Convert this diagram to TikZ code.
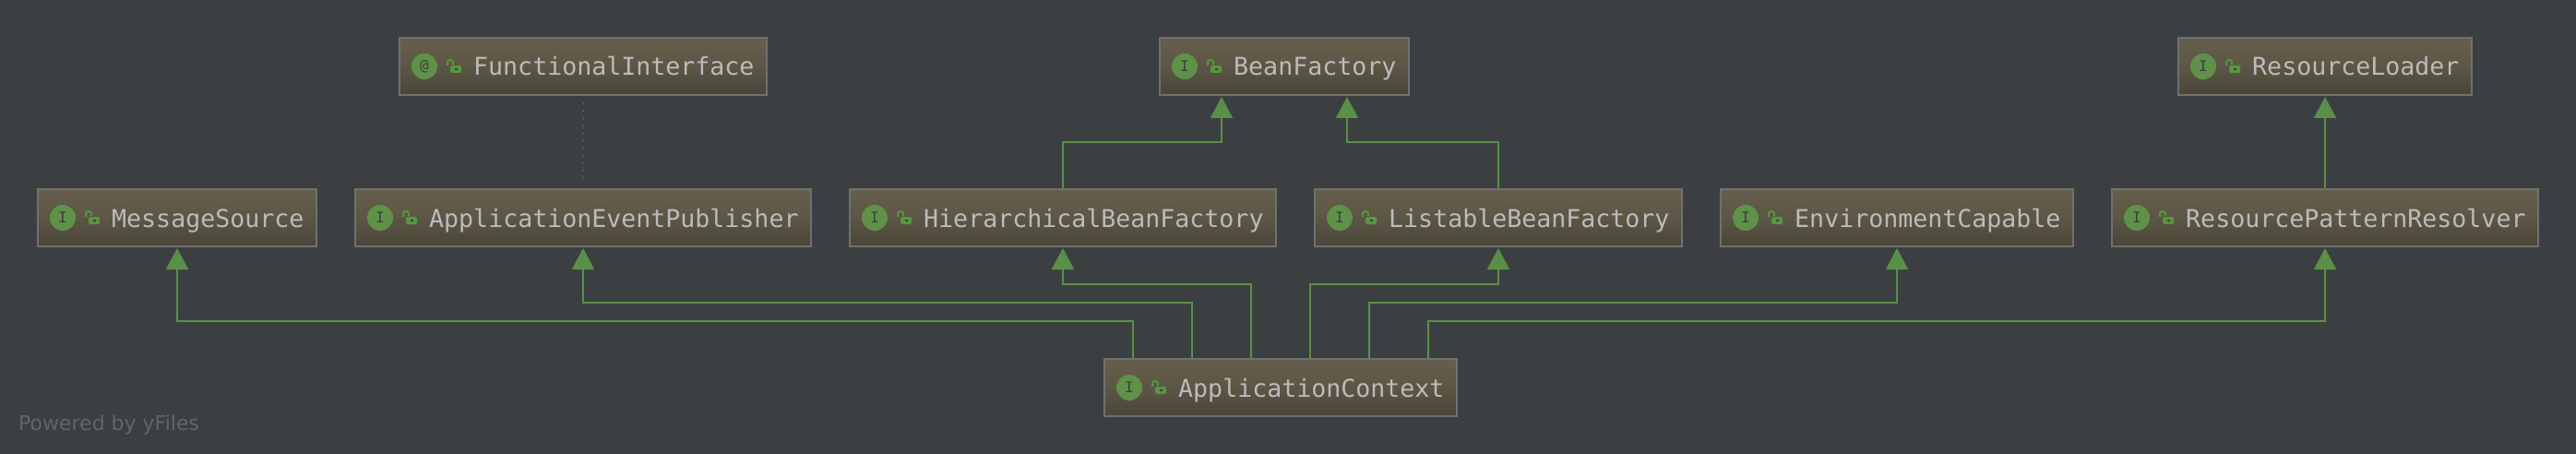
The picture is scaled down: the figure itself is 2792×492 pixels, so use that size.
\documentclass[tikz,border=0pt]{standalone}
\usepackage{fontspec}
\newfontfamily\lblfont{DejaVu Sans Mono}
\newfontfamily\wmfont{DejaVu Sans}
\usetikzlibrary{arrows.meta,calc}
\definecolor{bgc}{HTML}{3C3F41}
\definecolor{edgec}{HTML}{5A8F48}
\definecolor{iconc}{HTML}{5F9248}
\definecolor{lockc}{HTML}{56963F}
\definecolor{txtc}{HTML}{BBBBBB}
\definecolor{borderc}{HTML}{707070}
\definecolor{boxtop}{HTML}{675F4D}
\definecolor{boxmid}{HTML}{5C5646}
\definecolor{boxbot}{HTML}{4A4538}
\definecolor{dotc}{HTML}{8F8F1E}
\definecolor{wmc}{HTML}{636567}
\tikzset{
  umlbox/.style={rectangle,draw=borderc,line width=2pt,top color=boxtop,bottom color=boxbot,middle color=boxmid,minimum height=62pt,inner sep=0pt,outer sep=1pt},
  umlicon/.style={circle,fill=iconc,minimum size=28pt,inner sep=0pt,text=bgc,font=\lblfont\fontsize{16}{16}\selectfont},
  umllabel/.style={inner sep=0pt,anchor=base west,text=txtc,font=\lblfont\fontsize{26.6}{30}\selectfont},
  edge/.style={draw=edgec,line width=2pt,-{Triangle[length=23pt,width=24pt,fill=edgec]},shorten >=1pt},
  dotedge/.style={draw=dotc,line width=1pt,dash pattern=on 1pt off 7pt,shorten <=8pt,shorten >=4pt},
  lockshackle/.style={draw=lockc,line width=2pt,rounded corners=2.6pt},
  lockbody/.style={fill=lockc,rounded corners=1.5pt}
}
% name, centre x, top y, outer width, glyph, text
\newcommand{\umlnode}[6]{%
  \node[umlbox,minimum width=#4pt-2pt] (#1) at (#2,#3+32) {};
  \node[umlicon] (#1-icon) at ($(#1.west)+(28,0)$) {#5};
  \node[umllabel] (#1-label) at ($(#1.west)+(81,10)$) {#6};
  \begin{scope}[shift={(#1.west)}]
    \draw[lockshackle] (53,-1) -- (53,-7) -- (59,-7) -- (59,-2);
    \fill[lockbody] (56,-1) rectangle (68,7);
    \fill[bgc] (60.5,2) rectangle (64,4);
  \end{scope}}
\begin{document}
\begin{tikzpicture}[x=1pt,y=-1pt]
\fill[bgc] (0,0) rectangle (2792,492);
\useasboundingbox (0,0) rectangle (2792,492);
\umlnode{fi}{632}{40}{400}{@}{FunctionalInterface}
\umlnode{bf}{1392}{40}{272}{I}{BeanFactory}
\umlnode{rl}{2520}{40}{320}{I}{ResourceLoader}
\umlnode{ms}{192}{204}{304}{I}{MessageSource}
\umlnode{aep}{632}{204}{496}{I}{ApplicationEventPublisher}
\umlnode{hbf}{1152}{204}{464}{I}{HierarchicalBeanFactory}
\umlnode{lbf}{1624}{204}{400}{I}{ListableBeanFactory}
\umlnode{ec}{2056}{204}{384}{I}{EnvironmentCapable}
\umlnode{rpr}{2520}{204}{464}{I}{ResourcePatternResolver}
\umlnode{ac}{1388}{388}{384}{I}{ApplicationContext}
\node[inner sep=0pt,anchor=base west,text=wmc,font=\wmfont\fontsize{22}{24}\selectfont] (wm) at (20,466) {Powered by yFiles};
\coordinate (l1) at (0,308);
\coordinate (l2) at (0,328);
\coordinate (l3) at (0,348);
\coordinate (l0) at (0,154);
\draw[dotedge] (fi.south) -- (aep.north);
\draw[edge] (rpr.north) -- (rl.south);
\draw[edge] (hbf.north) -- (hbf.north |- l0) -- ([xshift=-68pt]bf.south |- l0) -- ([xshift=-68pt]bf.south);
\draw[edge] (lbf.north) -- (lbf.north |- l0) -- ([xshift=68pt]bf.south |- l0) -- ([xshift=68pt]bf.south);
\draw[edge] ([xshift=-160pt]ac.north) -- ([xshift=-160pt]ac.north |- l3) -- (ms.south |- l3) -- (ms.south);
\draw[edge] ([xshift=-96pt]ac.north) -- ([xshift=-96pt]ac.north |- l2) -- (aep.south |- l2) -- (aep.south);
\draw[edge] ([xshift=-32pt]ac.north) -- ([xshift=-32pt]ac.north |- l1) -- (hbf.south |- l1) -- (hbf.south);
\draw[edge] ([xshift=32pt]ac.north) -- ([xshift=32pt]ac.north |- l1) -- (lbf.south |- l1) -- (lbf.south);
\draw[edge] ([xshift=96pt]ac.north) -- ([xshift=96pt]ac.north |- l2) -- (ec.south |- l2) -- (ec.south);
\draw[edge] ([xshift=160pt]ac.north) -- ([xshift=160pt]ac.north |- l3) -- (rpr.south |- l3) -- (rpr.south);
\end{tikzpicture}
\end{document}
